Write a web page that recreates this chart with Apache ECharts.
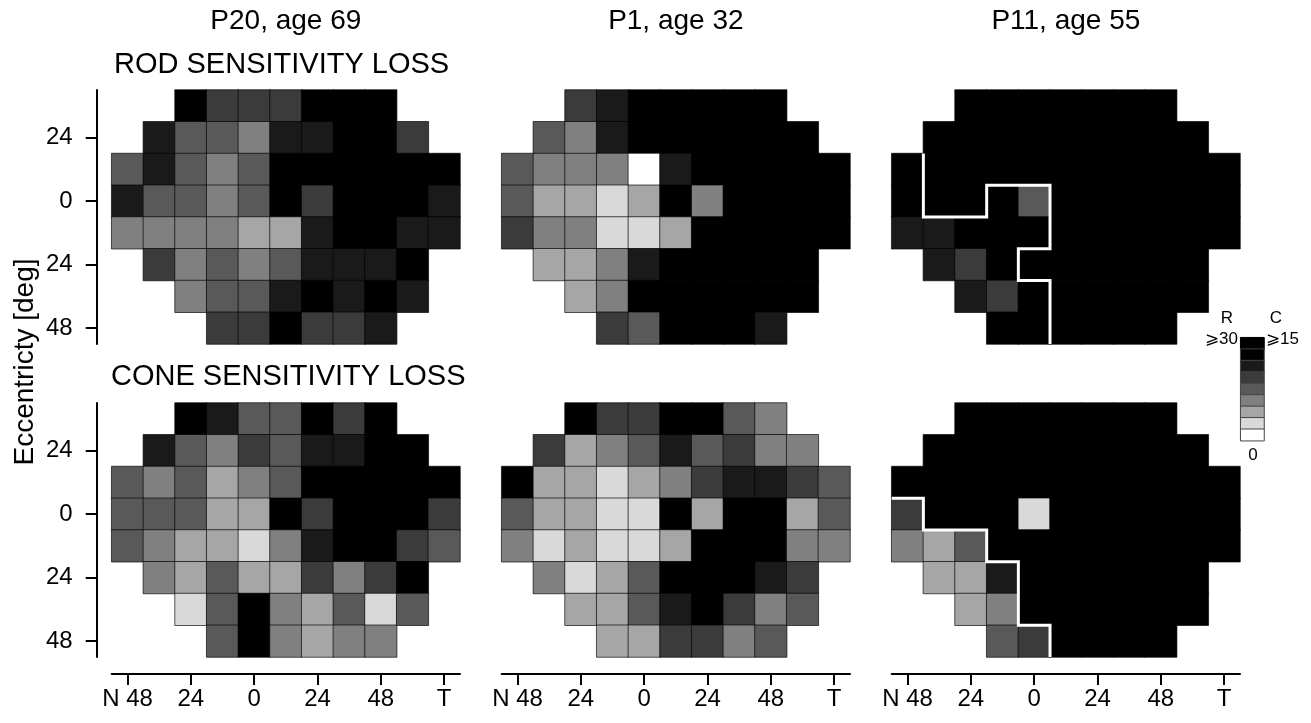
<!DOCTYPE html>
<html>
<head>
<meta charset="utf-8">
<script src="https://cdn.jsdelivr.net/npm/echarts@6/dist/echarts.min.js"></script>
<style>
html,body{margin:0;padding:0;background:#fff;}
#chart{width:1311px;height:723px;}
</style>
</head>
<body>
<div id="chart"></div>
<script>
// ---- data ----
const n = null;
const xDeg = [-48, -36, -24, -12, 0, 12, 24, 36, 48, 60, 72];
const xTickLabels = ['N 48', '', '24', '', '0', '', '24', '', '48', '', 'T'];
const yDeg = [36, 24, 12, 0, -12, -24, -36, -48];
const yTickLabels = ['', '24', '', '0', '', '24', '', '48'];

// loss level per test location: 0 = no loss (white) ... 7 = max loss (black)
const rodP20 = [
  [n, n, 7, 5, 5, 5, 7, 7, 7, n, n],
  [n, 6, 4, 4, 3, 6, 6, 7, 7, 5, n],
  [4, 6, 4, 3, 4, 7, 7, 7, 7, 7, 7],
  [6, 4, 4, 3, 4, 7, 5, 7, 7, 7, 6],
  [3, 3, 3, 3, 2, 2, 6, 7, 7, 6, 6],
  [n, 5, 3, 4, 3, 4, 6, 6, 6, 7, n],
  [n, n, 3, 4, 4, 6, 7, 6, 7, 6, n],
  [n, n, n, 5, 5, 7, 5, 5, 6, n, n]
];
const rodP1 = [
  [n, n, 5, 6, 7, 7, 7, 7, 7, n, n],
  [n, 4, 3, 6, 7, 7, 7, 7, 7, 7, n],
  [4, 3, 3, 3, 0, 6, 7, 7, 7, 7, 7],
  [4, 2, 2, 1, 2, 7, 3, 7, 7, 7, 7],
  [5, 3, 3, 1, 1, 2, 7, 7, 7, 7, 7],
  [n, 2, 2, 3, 6, 7, 7, 7, 7, 7, n],
  [n, n, 2, 3, 7, 7, 7, 7, 7, 7, n],
  [n, n, n, 5, 4, 7, 7, 7, 6, n, n]
];
const rodP11 = [
  [n, n, 7, 7, 7, 7, 7, 7, 7, n, n],
  [n, 7, 7, 7, 7, 7, 7, 7, 7, 7, n],
  [7, 7, 7, 7, 7, 7, 7, 7, 7, 7, 7],
  [7, 7, 7, 7, 4, 7, 7, 7, 7, 7, 7],
  [6, 6, 7, 7, 7, 7, 7, 7, 7, 7, 7],
  [n, 6, 5, 7, 7, 7, 7, 7, 7, 7, n],
  [n, n, 6, 5, 7, 7, 7, 7, 7, 7, n],
  [n, n, n, 7, 7, 7, 7, 7, 7, n, n]
];
const coneP20 = [
  [n, n, 7, 6, 4, 4, 7, 5, 7, n, n],
  [n, 6, 4, 3, 5, 4, 6, 6, 7, 7, n],
  [4, 3, 4, 2, 3, 4, 7, 7, 7, 7, 7],
  [4, 4, 4, 2, 2, 7, 5, 7, 7, 7, 5],
  [4, 3, 2, 2, 1, 3, 6, 7, 7, 5, 4],
  [n, 3, 2, 4, 2, 2, 5, 3, 5, 7, n],
  [n, n, 1, 4, 7, 3, 2, 4, 1, 4, n],
  [n, n, n, 4, 7, 3, 2, 3, 3, n, n]
];
const coneP1 = [
  [n, n, 7, 5, 5, 7, 7, 4, 3, n, n],
  [n, 5, 2, 3, 4, 6, 4, 5, 3, 3, n],
  [7, 2, 2, 1, 2, 3, 5, 6, 6, 5, 4],
  [4, 2, 2, 1, 1, 7, 2, 7, 7, 2, 4],
  [3, 1, 2, 1, 1, 2, 7, 7, 7, 3, 3],
  [n, 3, 1, 2, 4, 7, 7, 7, 6, 5, n],
  [n, n, 2, 2, 4, 6, 7, 5, 3, 4, n],
  [n, n, n, 2, 2, 5, 5, 3, 4, n, n]
];
const coneP11 = [
  [n, n, 7, 7, 7, 7, 7, 7, 7, n, n],
  [n, 7, 7, 7, 7, 7, 7, 7, 7, 7, n],
  [7, 7, 7, 7, 7, 7, 7, 7, 7, 7, 7],
  [5, 7, 7, 7, 1, 7, 7, 7, 7, 7, 7],
  [3, 2, 4, 7, 7, 7, 7, 7, 7, 7, 7],
  [n, 2, 2, 6, 7, 7, 7, 7, 7, 7, n],
  [n, n, 2, 3, 7, 7, 7, 7, 7, 7, n],
  [n, n, n, 4, 5, 7, 7, 7, 7, n, n]
];
// white boundary lines (column / row index units, cell edges at .5)
const rodP11Outline = [[0.5, 1.5], [0.5, 3.5], [2.5, 3.5], [2.5, 2.5], [4.5, 2.5], [4.5, 4.5], [3.5, 4.5], [3.5, 5.5], [4.5, 5.5], [4.5, 7.5]];
const coneP11Outline = [[-0.5, 2.5], [0.5, 2.5], [0.5, 3.5], [2.5, 3.5], [2.5, 4.5], [3.5, 4.5], [3.5, 6.5], [4.5, 6.5], [4.5, 7.5]];

const legendLevels = [7, 7, 6, 5, 4, 3, 2, 1, 0];
const palette = ['#ffffff', '#d9d9d9', '#a6a6a6', '#808080', '#595959', '#3b3b3b', '#1a1a1a', '#000000'];

const titles = ['P20, age 69', 'P1, age 32', 'P11, age 55'];
const rowTitles = ['ROD SENSITIVITY LOSS', 'CONE SENSITIVITY LOSS'];

// ---- build ----
const FONT = '"Liberation Sans", Arial, Helvetica, sans-serif';
const panels = [
  { data: rodP20 }, { data: rodP1 }, { data: rodP11, outline: rodP11Outline },
  { data: coneP20 }, { data: coneP1 }, { data: coneP11, outline: coneP11Outline }
];

function toCells(m) {
  const out = [];
  m.forEach((row, r) => row.forEach((v, c) => { if (v !== null) out.push([c, r, v]); }));
  return out;
}

const grids = [], xAxes = [], yAxes = [], series = [], heatIdx = [];
const GL = 111.7, GW = 348.3, GH = 254, STEP = 390, TOPS = [90, 403];

panels.forEach((p, i) => {
  const c = i % 3, r = Math.floor(i / 3);
  grids.push({ left: GL + STEP * c, top: TOPS[r], width: GW, height: GH });
});
// legend grid
grids.push({ left: 1240.7, top: 337.7, width: 23.3, height: 103 });

panels.forEach((p, i) => {
  const c = i % 3, r = Math.floor(i / 3);
  const showX = r === 1, showY = c === 0;
  xAxes.push({
    type: 'category', gridIndex: i, data: xDeg, show: showX, offset: 17, position: 'bottom',
    axisLine: { show: true, onZero: false, lineStyle: { color: '#000', width: 2 } },
    axisTick: { show: true, alignWithLabel: true, interval: (idx) => idx % 2 === 0, length: 11, lineStyle: { color: '#000', width: 2 } },
    axisLabel: { interval: 0, formatter: (v, idx) => xTickLabels[idx], color: '#000', fontSize: 24, fontFamily: FONT, margin: 13 },
    splitLine: { show: false }, splitArea: { show: false }
  });
  yAxes.push({
    type: 'category', gridIndex: i, data: yDeg, inverse: true, show: showY, offset: 15, position: 'left',
    axisLine: { show: true, onZero: false, lineStyle: { color: '#000', width: 2 } },
    axisTick: { show: true, alignWithLabel: true, interval: (idx) => idx % 2 === 1, length: 11, lineStyle: { color: '#000', width: 2 } },
    axisLabel: { interval: 0, formatter: (v, idx) => yTickLabels[idx], color: '#000', fontSize: 24, fontFamily: FONT, margin: 24 },
    splitLine: { show: false }, splitArea: { show: false }
  });
  heatIdx.push(series.length);
  series.push({
    type: 'heatmap', xAxisIndex: i, yAxisIndex: i, data: toCells(p.data),
    itemStyle: { borderColor: 'rgba(0,0,0,0.65)', borderWidth: 1 },
    emphasis: { disabled: true }, silent: true
  });
});

// legend colour bar axes
xAxes.push({ type: 'category', gridIndex: 6, data: ['k'], show: false });
yAxes.push({ type: 'category', gridIndex: 6, data: legendLevels.map((v, j) => 'l' + j), inverse: true, show: false });
heatIdx.push(series.length);
series.push({
  type: 'heatmap', xAxisIndex: 6, yAxisIndex: 6,
  data: legendLevels.map((v, j) => ({ value: [0, j, v], itemStyle: j === 0 ? { borderColor: '#000' } : {} })),
  itemStyle: { borderColor: '#444', borderWidth: 1 },
  emphasis: { disabled: true }, silent: true
});

// overlay value axes for boundary lines
panels.forEach((p, i) => {
  if (!p.outline) return;
  const xi = xAxes.length, yi = yAxes.length;
  xAxes.push({ type: 'value', gridIndex: i, min: -0.5, max: 10.5, show: false, position: 'top', axisLine: { onZero: false }, splitLine: { show: false } });
  yAxes.push({ type: 'value', gridIndex: i, min: -0.5, max: 7.5, inverse: true, show: false, position: 'right', axisLine: { onZero: false }, splitLine: { show: false } });
  series.push({
    type: 'line', xAxisIndex: xi, yAxisIndex: yi, data: p.outline,
    symbol: 'none', lineStyle: { color: '#fff', width: 3, join: 'miter' }, z: 10, silent: true
  });
});

const txt = (text, x, y, size, align, extra) => Object.assign({
  type: 'text', x: x, y: y, silent: true,
  style: { text: text, x: 0, y: 0, fill: '#000', font: size + 'px ' + FONT,
    textAlign: align, align: align, textVerticalAlign: 'middle', verticalAlign: 'middle' }
}, extra || {});

const graphics = [];
titles.forEach((t, c) => graphics.push(txt(t, GL + STEP * c + GW / 2, 21, 28, 'center')));
graphics.push(txt(rowTitles[0], 114, 65, 29, 'left'));
graphics.push(txt(rowTitles[1], 111, 377, 29, 'left'));
graphics.push(txt('Eccentricty [deg]', 25, 362, 28, 'center', { rotation: Math.PI / 2 }));
graphics.push(txt('R', 1227, 318, 17, 'center'));
graphics.push(txt('C', 1276, 318, 17, 'center'));
graphics.push(txt('\u2A7E30', 1238, 339, 17, 'right'));
graphics.push(txt('\u2A7E15', 1266, 339, 17, 'left'));
graphics.push(txt('0', 1253, 455, 17, 'center'));

const option = {
  animation: false,
  backgroundColor: '#fff',
  grid: grids,
  xAxis: xAxes,
  yAxis: yAxes,
  visualMap: {
    type: 'piecewise', show: false, dimension: 2, seriesIndex: heatIdx,
    pieces: palette.map((col, v) => ({ value: v, color: col }))
  },
  series: series,
  graphic: { elements: graphics }
};

const chart = echarts.init(document.getElementById('chart'), null, { renderer: 'canvas' });
chart.setOption(option);
</script>
</body>
</html>
